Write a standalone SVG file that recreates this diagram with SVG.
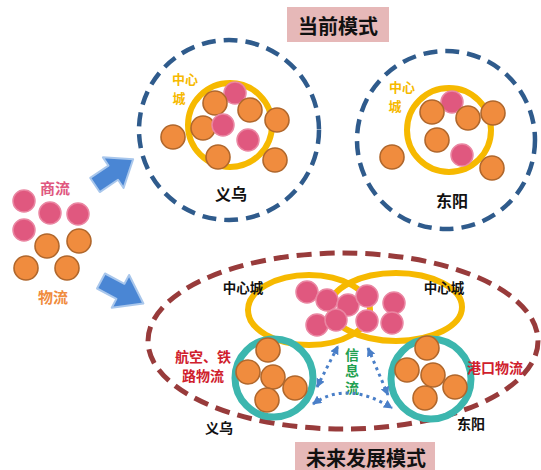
<svg xmlns="http://www.w3.org/2000/svg" width="541" height="470" viewBox="0 0 541 470">
<defs>
<style>
.pk{fill:#e0587f;stroke:#ea86a2;stroke-width:1.5}
.or{fill:#f08c3e;stroke:#b0672c;stroke-width:1.6}
.navy{fill:none;stroke:#2f5b8c;stroke-width:4.5;stroke-dasharray:14 8}
.red{fill:none;stroke:#983b3b;stroke-width:5;stroke-dasharray:15 8}
.yel{fill:none;stroke:#f6b900;stroke-width:6}
.teal{fill:none;stroke:#3cb6ae;stroke-width:7}
.t{font-family:"Noto Sans CJK SC","Noto Sans",sans-serif;font-weight:bold;text-anchor:middle;dominant-baseline:central}
.blk{fill:#111}
.ytx{fill:#f6b900;font-size:13px}
.rtx{fill:#d0202c;font-size:14px}
.big{fill:#111;font-size:20px}
.box{fill:#e6b8b8}
.barrow{fill:#4a86d4;stroke:#a9c7ec;stroke-width:2;stroke-linejoin:round}
.dot{fill:none;stroke:#4a7fc8;stroke-width:3;stroke-dasharray:3 4;marker-start:url(#ah);marker-end:url(#ah)}
</style>
<marker id="ah" viewBox="0 0 10 10" refX="9" refY="5" markerWidth="9" markerHeight="9" markerUnits="userSpaceOnUse" orient="auto-start-reverse">
<path d="M0,0 L10,5 L0,10 Z" fill="#4a7fc8"/>
</marker>
</defs>

<g id="title-current">
<rect class="box" x="287" y="7" width="102" height="35"/>
<text class="t big" x="338" y="25">当前模式</text>
</g>

<g id="title-future">
<rect class="box" x="295" y="442" width="140" height="32"/>
<text class="t big" x="366" y="457">未来发展模式</text>
</g>

<g id="flows">
<text class="t" x="55" y="187" style="fill:#e0587f;font-size:15px">商流</text>
<circle class="pk" cx="24" cy="201" r="11"/>
<circle class="pk" cx="50" cy="213" r="11"/>
<circle class="pk" cx="78" cy="214" r="11"/>
<circle class="pk" cx="24" cy="230" r="11"/>
<circle class="or" cx="47" cy="246" r="12"/>
<circle class="or" cx="79" cy="241" r="12"/>
<circle class="or" cx="26" cy="268" r="12"/>
<circle class="or" cx="67" cy="268" r="12"/>
<text class="t" x="53" y="296" style="fill:#f08c3e;font-size:15px">物流</text>
</g>

<g id="yiwu-current">
<circle class="navy" cx="229" cy="130" r="90"/>
<circle class="yel" cx="230" cy="125" r="42"/>
<circle class="or" cx="173" cy="137" r="12"/>
<circle class="pk" cx="235" cy="93" r="11"/>
<circle class="or" cx="215" cy="103" r="12"/>
<circle class="or" cx="250" cy="110" r="12"/>
<circle class="or" cx="277" cy="120" r="12"/>
<circle class="or" cx="203" cy="128" r="12"/>
<circle class="pk" cx="223" cy="125" r="11"/>
<circle class="pk" cx="248" cy="140" r="11"/>
<circle class="or" cx="218" cy="157" r="12"/>
<circle class="or" cx="275" cy="160" r="12"/>
<text class="t ytx" x="185" y="78">中心<tspan x="179" dy="19">城</tspan></text>
<text class="t blk" x="231" y="193" style="font-size:16px">义乌</text>
</g>

<g id="dongyang-current">
<circle class="navy" cx="446" cy="140" r="89"/>
<circle class="yel" cx="449" cy="130" r="42"/>
<circle class="pk" cx="452" cy="102" r="11"/>
<circle class="or" cx="432" cy="112" r="12"/>
<circle class="or" cx="468" cy="118" r="12"/>
<circle class="or" cx="493" cy="113" r="12"/>
<circle class="or" cx="437" cy="140" r="12"/>
<circle class="pk" cx="462" cy="155" r="11"/>
<circle class="or" cx="392" cy="157" r="12"/>
<circle class="or" cx="492" cy="168" r="12"/>
<text class="t ytx" x="402" y="86">中心<tspan x="395" dy="19">城</tspan></text>
<text class="t blk" x="452" y="200" style="font-size:16px">东阳</text>
</g>

<g id="future-region">
<ellipse class="red" cx="343" cy="341" rx="195" ry="88"/>
</g>

<g id="center-city">
<ellipse class="yel" cx="309" cy="310" rx="61" ry="35"/>
<ellipse class="yel" cx="396" cy="307" rx="66" ry="34"/>
<circle class="pk" cx="307" cy="292" r="11"/>
<circle class="pk" cx="327" cy="300" r="11"/>
<circle class="pk" cx="348" cy="305" r="11"/>
<circle class="pk" cx="367" cy="296" r="11"/>
<circle class="pk" cx="394" cy="303" r="11"/>
<circle class="pk" cx="317" cy="325" r="11"/>
<circle class="pk" cx="336" cy="320" r="11"/>
<circle class="pk" cx="367" cy="321" r="11"/>
<circle class="pk" cx="392" cy="323" r="11"/>
<text class="t blk" x="243" y="287" style="font-size:13.5px">中心城</text>
<text class="t blk" x="444" y="287" style="font-size:13.5px">中心城</text>
</g>

<g id="yiwu-future">
<circle class="teal" cx="274" cy="378" r="39"/>
<circle class="or" cx="268" cy="350" r="12"/>
<circle class="or" cx="248" cy="372" r="12"/>
<circle class="or" cx="273" cy="377" r="12"/>
<circle class="or" cx="295" cy="388" r="12"/>
<circle class="or" cx="267" cy="400" r="12"/>
<text class="t rtx" x="203" y="356">航空、铁<tspan x="203" dy="19">路物流</tspan></text>
<text class="t blk" x="219" y="427" style="font-size:14px">义乌</text>
</g>

<g id="dongyang-future">
<circle class="teal" cx="431" cy="379" r="40"/>
<circle class="or" cx="427" cy="348" r="12"/>
<circle class="or" cx="407" cy="370" r="12"/>
<circle class="or" cx="433" cy="375" r="12"/>
<circle class="or" cx="455" cy="387" r="12"/>
<circle class="or" cx="425" cy="398" r="12"/>
<text class="t rtx" x="495" y="367">港口物流</text>
<text class="t blk" x="471" y="423" style="font-size:14px">东阳</text>
</g>

<g id="info-flow">
<text class="t" x="352" y="372" writing-mode="vertical-rl" style="fill:#1fa050;font-size:14px;letter-spacing:2.5px">信息流</text>
</g>

<g id="connectors">
<polygon class="barrow" points="0,-8.5 22,-8.5 22,-18.5 46,0 22,18.5 22,8.5 0,8.5" transform="translate(95,185) rotate(-34)"/>
<polygon class="barrow" points="0,-8.5 22,-8.5 22,-18.5 48,0 22,18.5 22,8.5 0,8.5" transform="translate(101,281) rotate(28)"/>
<path class="dot" d="M317,387 L338,346"/>
<path class="dot" d="M368,348 L388,395"/>
<path class="dot" d="M313,404 Q347,380 392,408"/>
</g>
</svg>
